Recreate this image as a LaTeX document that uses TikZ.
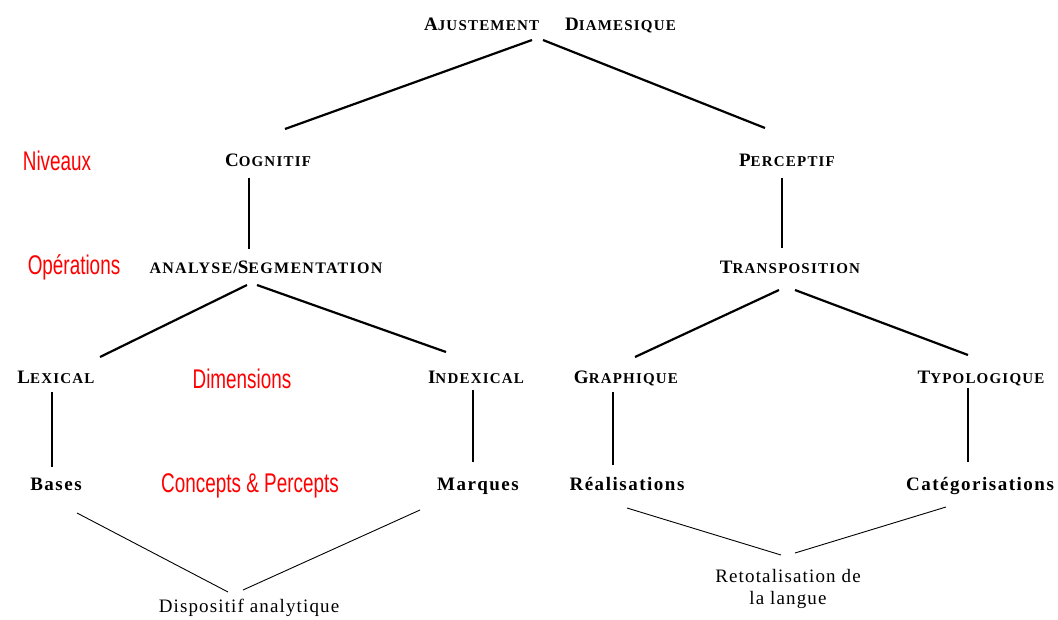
\documentclass[tikz,border=0pt]{standalone}
\usepackage{fontspec}
\setmainfont{Liberation Serif}[LetterSpace=6]
\newfontfamily\capfont[LetterSpace=8]{Liberation Serif}
\newfontfamily\redfont[FakeStretch=0.7]{Liberation Sans}
\usepackage{tikz}
\usetikzlibrary{calc}

\newcommand\smcap[2]{{\fontsize{19}{19}\selectfont#1}{\fontsize{15}{15}\selectfont#2}}

\begin{document}
\begin{tikzpicture}[x=1pt, y=-1pt,
    lvl/.style={font={\capfont\bfseries\fontsize{19}{19}\selectfont}, inner sep=0pt, anchor=base},
    tag/.style={font={\redfont\fontsize{27}{27}\selectfont}, text=red, inner sep=0pt, anchor=base},
    note/.style={font={\fontsize{19}{22}\selectfont}, inner sep=0pt, align=center},
    branch/.style={line width=2.2pt},
    leaf/.style={line width=0.9pt}]
    \useasboundingbox (0,0) rectangle (1058,619);

    \node[lvl] (top) at (550,30) {\smcap{A}{JUSTEMENT}\hspace{26pt}\smcap{D}{IAMESIQUE}};
    \node[lvl] (cog) at (268,166) {\smcap{C}{OGNITIF}};
    \node[lvl] (perc) at (787,166) {\smcap{P}{ERCEPTIF}};
    \node[lvl] (ana) at (266,273) {{\fontsize{16}{16}\selectfont ANALYSE/}\smcap{S}{\fontsize{16}{16}\selectfont EGMENTATION}};
    \node[lvl] (trans) at (790,273) {\smcap{T}{RANSPOSITION}};
    \node[lvl] (lex) at (56,383) {\smcap{L}{EXICAL}};
    \node[lvl] (idx) at (476,383) {\smcap{I}{NDEXICAL}};
    \node[lvl] (gra) at (626,383) {\smcap{G}{RAPHIQUE}};
    \node[lvl] (typ) at (981,383) {\smcap{T}{YPOLOGIQUE}};
    \node[lvl] (bas) at (56,490) {Bases};
    \node[lvl] (mar) at (478,490) {Marques};
    \node[lvl] (rea) at (627,490) {Réalisations};
    \node[lvl] (cat) at (980,490) {Catégorisations};
    \node[note, anchor=base] (disp) at (249,612) {Dispositif analytique};
    \node[note] (reto) at (788,589) {Retotalisation de\\la langue};

    % labels in red
    \node[tag] (niv) at (57,170) {Niveaux};
    \node[tag] (ope) at (74,274) {Opérations};
    \node[tag] (dim) at (242,388) {Dimensions};
    \node[tag] (con) at (250,492) {Concepts \& Percepts};

    \draw[branch] ($(top.base)+(-18,10)$) -- ($(cog.base)+(17,-37)$);
    \draw[branch] ($(top.base)+(-7,10)$) -- ($(perc.base)+(-22,-38)$);
    \draw[branch] ($(cog.base)+(-19,12)$) -- ($(ana.base)+(-17,-24)$);
    \draw[branch] ($(perc.base)+(-5,12)$) -- ($(trans.base)+(-8,-25)$);
    \draw[branch] ($(ana.base)+(-19,12)$) -- ($(lex.base)+(44,-26)$);
    \draw[branch] ($(ana.base)+(-9,12)$) -- ($(idx.base)+(-30,-31)$);
    \draw[branch] ($(trans.base)+(-11,17)$) -- ($(gra.base)+(9,-26)$);
    \draw[branch] ($(trans.base)+(5,17)$) -- ($(typ.base)+(-13,-28)$);
    \draw[branch] ($(lex.base)+(-4,9)$) -- ($(bas.base)+(-4,-23)$);
    \draw[branch] ($(idx.base)+(-3,7)$) -- ($(mar.base)+(-5,-28)$);
    \draw[branch] ($(gra.base)+(-13,9)$) -- ($(rea.base)+(-14,-25)$);
    \draw[branch] ($(typ.base)+(-13,5)$) -- ($(cat.base)+(-12,-28)$);

    \draw[leaf] ($(bas.base)+(21,23)$) -- ($(disp.base)+(-21,-20)$);
    \draw[leaf] ($(mar.base)+(-58,20)$) -- ($(disp.base)+(-6,-22)$);
    \draw[leaf] ($(rea.base)+(0,18)$) -- ($(reto.center)+(-7,-34)$);
    \draw[leaf] ($(cat.base)+(-34,17)$) -- ($(reto.center)+(7,-36)$);
\end{tikzpicture}
\end{document}
